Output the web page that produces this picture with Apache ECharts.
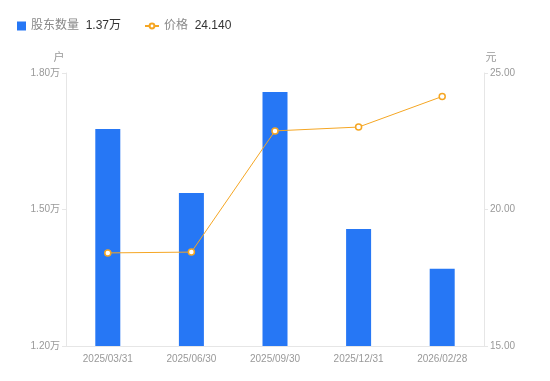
<!DOCTYPE html>
<html><head><meta charset="utf-8">
<script src="https://cdn.jsdelivr.net/npm/echarts@6/dist/echarts.min.js"></script>
<style>html,body{margin:0;padding:0;background:#fff}#c{width:550px;height:381px}</style>
</head><body><div id="c"></div>
<script>
var categories = ['2025/03/31','2025/06/30','2025/09/30','2025/12/31','2026/02/28'];
var holders = [16770, 15360, 17580, 14570, 13700];
var prices = [18.41, 18.44, 22.88, 23.02, 24.14];
var leftTicks = [12000, 18000, 3000];
var rightTicks = [15, 25, 5];
var legendValues = {'股东数量':'1.37万','价格':'24.140'};

var chart = echarts.init(document.getElementById('c'));
var font = '"Liberation Sans", "Noto Sans CJK SC", sans-serif';
var legendText = {rich:{a:{color:'#888',fontSize:12,fontFamily:font},b:{color:'#333',fontSize:12,fontFamily:font}}};
function fmt(n){return '{a|'+n+'}  {b|'+legendValues[n]+'}';}
chart.setOption({
  animation:false,
  textStyle:{fontFamily:font},
  legend:[
    {left:12, top:15, itemWidth:9, itemHeight:9,
     data:[{name:'股东数量', icon:'rect'}], formatter:fmt, textStyle:legendText},
    {left:139, top:15, itemWidth:14, itemHeight:6,
     data:[{name:'价格'}], formatter:fmt, textStyle:legendText}
  ],
  grid:{left:66,right:66,top:73,bottom:35},
  xAxis:{type:'category',data:categories,
    axisLine:{lineStyle:{color:'#e6e6e6'}},axisTick:{show:false},
    axisLabel:{color:'#999',fontSize:10,margin:8}},
  yAxis:[
    {type:'value',min:leftTicks[0],max:leftTicks[1],interval:leftTicks[2],name:'户',
     nameTextStyle:{color:'#999',fontSize:11,padding:[0,14,0,0]},nameGap:10,
     axisLine:{show:true,lineStyle:{color:'#e6e6e6'}},axisTick:{show:true,length:4,lineStyle:{color:'#e6e6e6'}},
     splitLine:{show:false},
     axisLabel:{color:'#999',fontSize:10,margin:6,formatter:function(v){return (v/10000).toFixed(2)+'万';}}},
    {type:'value',min:rightTicks[0],max:rightTicks[1],interval:rightTicks[2],name:'元',position:'right',
     nameTextStyle:{color:'#999',fontSize:11,padding:[0,0,0,14]},nameGap:10,
     axisLine:{show:true,lineStyle:{color:'#e6e6e6'}},axisTick:{show:true,length:4,lineStyle:{color:'#e6e6e6'}},
     splitLine:{show:false},
     axisLabel:{color:'#999',fontSize:10,margin:6,formatter:function(v){return v.toFixed(2);}}}
  ],
  series:[
    {name:'股东数量',type:'bar',data:holders,barWidth:25,itemStyle:{color:'#2677F5'}},
    {name:'价格',type:'line',yAxisIndex:1,data:prices,symbol:'circle',symbolSize:6,
     lineStyle:{color:'#F5A623',width:1},itemStyle:{color:'#fff',borderColor:'#F5A623',borderWidth:1.5}}
  ]
});
</script></body></html>
